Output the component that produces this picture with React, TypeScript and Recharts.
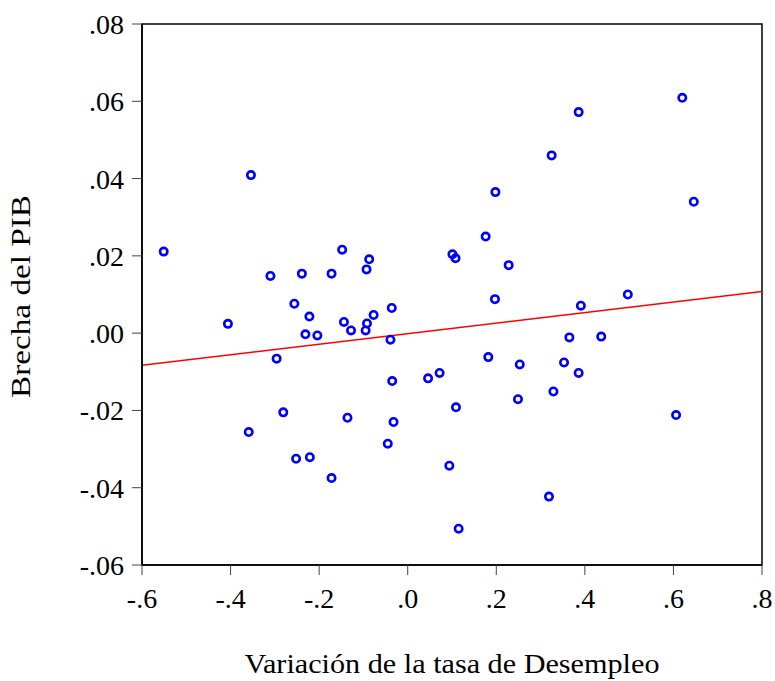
import React from 'react';
import { ScatterChart, Scatter, XAxis, YAxis, ReferenceLine, ReferenceArea } from 'recharts';

// Variación de la tasa de Desempleo (x) and Brecha del PIB (y)
const desempleo = [
  -0.551, -0.354, -0.310, -0.239, -0.172, -0.148, -0.087, -0.093, 0.101, 0.108,
  0.620, 0.386, 0.325, 0.198, 0.646, 0.176, 0.228, 0.197, 0.497,
  -0.406, -0.256, -0.222, -0.231, -0.204, -0.144, -0.128, -0.095, -0.092, -0.077,
  -0.036, -0.039, -0.296, -0.035, 0.046, 0.072, 0.109, -0.281, -0.136, -0.032,
  -0.359, -0.045, -0.252, -0.221, 0.094, -0.172, 0.115,
  0.391, 0.365, 0.437, 0.182, 0.253, 0.353, 0.386, 0.329, 0.249, 0.606, 0.319,
];
const brecha = [
  0.0211, 0.0409, 0.0148, 0.0154, 0.0154, 0.0216, 0.0191, 0.0165, 0.0204, 0.0194,
  0.0609, 0.0572, 0.0460, 0.0365, 0.0340, 0.0250, 0.0176, 0.0088, 0.0100,
  0.0024, 0.0076, 0.0043, -0.0003, -0.0006, 0.0029, 0.0007, 0.0007, 0.0025, 0.0047,
  0.0065, -0.0017, -0.0066, -0.0124, -0.0117, -0.0103, -0.0192, -0.0205, -0.0219, -0.0230,
  -0.0256, -0.0286, -0.0325, -0.0321, -0.0343, -0.0375, -0.0506,
  0.0071, -0.0011, -0.0009, -0.0062, -0.0081, -0.0076, -0.0103, -0.0151, -0.0171, -0.0212, -0.0423,
];
const xTicks = [-0.6, -0.4, -0.2, 0, 0.2, 0.4, 0.6, 0.8];
const yTicks = [-0.06, -0.04, -0.02, 0, 0.02, 0.04, 0.06, 0.08];
const fitX = [-0.6, 0.8];
const fitY = [-0.0083, 0.0108];

const xTitle = 'Variación de la tasa de Desempleo';
const yTitle = 'Brecha del PIB';

const data = desempleo.map((x, i) => ({ x, y: brecha[i] }));

const FONT = 'Liberation Serif, Times New Roman, Tinos, serif';

const fmt = (d: number) => (v: number) => {
  const s = Math.abs(v).toFixed(d).replace(/^0/, '');
  return v < -1e-12 ? '-' + s : s;
};

const Ring = (p: any) => (
  <circle cx={p.cx} cy={p.cy} r={3.7} fill="none" stroke="#0000FF" strokeWidth={2.6} />
);

const XLabel = (props: any) => {
  const vb = props.viewBox || { x: 142, y: 565, width: 620, height: 116 };
  return (
    <text
      x={vb.x + vb.width / 2}
      y={vb.y + 108}
      textAnchor="middle"
      style={{ fontFamily: FONT, fontSize: 27 }}
      fill="#000"
      textLength={415}
      lengthAdjust="spacingAndGlyphs"
    >
      {xTitle}
    </text>
  );
};

const YLabel = (props: any) => {
  const vb = props.viewBox || { x: 0, y: 24, width: 142, height: 541 };
  const x = vb.x + 30;
  const y = vb.y + vb.height / 2 + 2;
  return (
    <text
      x={x}
      y={y}
      transform={`rotate(-90, ${x}, ${y})`}
      textAnchor="middle"
      style={{ fontFamily: FONT, fontSize: 27 }}
      fill="#000"
      textLength={203}
      lengthAdjust="spacingAndGlyphs"
    >
      {yTitle}
    </text>
  );
};

export default function App() {
  return (
    <div style={{ position: 'absolute', left: 0, top: 0, background: '#fff', fontFamily: FONT }}>
      <ScatterChart
        width={775}
        height={681}
        margin={{ top: 24, right: 13, bottom: 0, left: 0 }}
        style={{ fontFamily: FONT }}
      >
        <XAxis
          type="number"
          dataKey="x"
          domain={[-0.6, 0.8]}
          ticks={xTicks}
          interval={0}
          allowDataOverflow
          tickFormatter={fmt(1)}
          tickSize={10}
          tickMargin={13}
          height={116}
          axisLine={{ stroke: '#000', strokeWidth: 1.5 }}
          tickLine={{ stroke: '#444', strokeWidth: 1 }}
          tick={{ fontSize: 28, fill: '#000', style: { fontFamily: FONT } }}
          label={XLabel}
        />
        <YAxis
          type="number"
          dataKey="y"
          domain={[-0.06, 0.08]}
          ticks={yTicks}
          interval={0}
          allowDataOverflow
          tickFormatter={fmt(2)}
          tickSize={10}
          tickMargin={8}
          width={142}
          axisLine={{ stroke: '#000', strokeWidth: 1.5 }}
          tickLine={{ stroke: '#444', strokeWidth: 1 }}
          tick={{ fontSize: 28, fill: '#000', style: { fontFamily: FONT } }}
          label={YLabel}
        />
        <ReferenceArea
          x1={xTicks[0]}
          x2={xTicks[xTicks.length - 1]}
          y1={yTicks[0]}
          y2={yTicks[yTicks.length - 1]}
          fill="none"
          stroke="#000"
          strokeWidth={1.5}
        />
        <ReferenceLine
          segment={[
            { x: fitX[0], y: fitY[0] },
            { x: fitX[1], y: fitY[1] },
          ]}
          stroke="#FF0000"
          strokeWidth={1.5}
        />
        <Scatter data={data} shape={Ring} isAnimationActive={false} />
      </ScatterChart>
    </div>
  );
}
